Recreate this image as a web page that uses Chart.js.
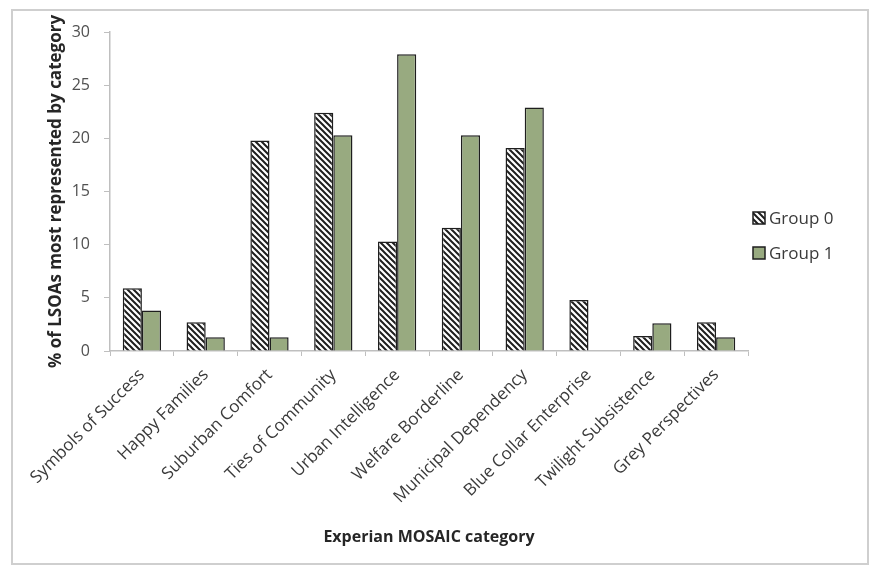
<!DOCTYPE html>
<html>
<head>
<meta charset="utf-8">
<script src="https://cdn.jsdelivr.net/npm/chart.js@4/dist/chart.umd.min.js"></script>
<style>
  html, body { margin: 0; padding: 0; background: #fff; }
  #wrap { width: 869px; height: 566px; }
</style>
</head>
<body>
<div id="wrap"><canvas id="chart" width="869" height="566"></canvas></div>
<script>
// ==============================
// data
// ==============================
const categories = [
  "Symbols of Success",
  "Happy Families",
  "Suburban Comfort",
  "Ties of Community",
  "Urban Intelligence",
  "Welfare Borderline",
  "Municipal Dependency",
  "Blue Collar Enterprise",
  "Twilight Subsistence",
  "Grey Perspectives",
];
const seriesNames = ["Group 0", "Group 1"];
const group0 = [5.9, 2.7, 19.8, 22.4, 10.3, 11.6, 19.1, 4.8, 1.4, 2.7];
const group1 = [3.8, 1.3, 1.3, 20.3, 27.9, 20.3, 22.9, 0, 2.6, 1.3];
const yMin = 0;
const yMax = 30;
const yStep = 5;
const xTitle = "Experian MOSAIC category";
const yTitle = "% of LSOAs most represented by category";

const GREEN = "#98aa80";
const EDGE = "#1e1e1e";
const AXIS = "#bfbfbf";

Chart.defaults.font.family = "'Open Sans', sans-serif";

const canvas = document.getElementById("chart");

// hatch fill for group 0 (wide downward diagonal)
function makeHatch() {
  const c = document.createElement("canvas");
  c.width = 6;
  c.height = 6;
  const g = c.getContext("2d");
  g.fillStyle = "#fff";
  g.fillRect(0, 0, 6, 6);
  g.strokeStyle = "#1e1e1e";
  g.lineWidth = 2;
  g.beginPath();
  g.moveTo(-1, -1); g.lineTo(7, 7);
  g.moveTo(-1, 5); g.lineTo(1, 7);
  g.moveTo(5, -1); g.lineTo(7, 1);
  g.stroke();
  return canvas.getContext("2d").createPattern(c, "repeat");
}

// ==============================
// frame + legend
// ==============================
const framePlugin = {
  id: "frame",
  beforeDraw(chart) {
    const ctx = chart.ctx;
    ctx.save();
    ctx.fillStyle = "#fff";
    ctx.fillRect(0, 0, chart.width, chart.height);
    ctx.strokeStyle = "#cfcfcf";
    ctx.lineWidth = 2;
    ctx.strokeRect(12, 10, chart.width - 13, chart.height - 12);
    ctx.restore();
  },
};

const sideLegend = {
  id: "sideLegend",
  afterDraw(chart) {
    const ctx = chart.ctx;
    const { right } = chart.chartArea;
    ctx.save();
    ctx.font = "17px 'Open Sans', sans-serif";
    ctx.textBaseline = "middle";
    ctx.textAlign = "left";
    chart.data.datasets.forEach((ds, i) => {
      const y = 218 + i * 35;
      const x = right + 5;
      ctx.fillStyle = ds.backgroundColor;
      ctx.fillRect(x, y - 6, 12, 12);
      ctx.strokeStyle = EDGE;
      ctx.lineWidth = 1.5;
      ctx.strokeRect(x, y - 6, 12, 12);
      ctx.fillStyle = "#3a3a3a";
      ctx.fillText(ds.label, x + 16, y + 1);
    });
    ctx.restore();
  },
};

// ==============================
// chart
// ==============================
new Chart(canvas, {
  type: "bar",
  data: {
    labels: categories,
    datasets: [
      {
        label: seriesNames[0],
        data: group0,
        backgroundColor: makeHatch(),
        borderColor: EDGE,
        borderWidth: 1.5,
      },
      {
        label: seriesNames[1],
        data: group1,
        backgroundColor: GREEN,
        borderColor: EDGE,
        borderWidth: 1.5,
      },
    ],
  },
  options: {
    responsive: false,
    animation: false,
    categoryPercentage: 0.6,
    barPercentage: 1.0,
    layout: {
      padding: { top: 32, right: 121, left: 0, bottom: 0 },
    },
    plugins: {
      legend: { display: false },
      tooltip: { enabled: false },
    },
    scales: {
      x: {
        afterFit(scale) { scale.height = 215; },
        grid: {
          offset: true,
          drawOnChartArea: false,
          drawTicks: true,
          tickLength: 5,
          color: AXIS,
        },
        border: { color: AXIS, width: 1.5 },
        ticks: {
          minRotation: 45,
          maxRotation: 45,
          autoSkip: false,
          padding: 9,
          color: "#3a3a3a",
          font: { size: 17 },
        },
        title: {
          display: true,
          text: xTitle,
          color: "#262626",
          font: { size: 16, weight: "bold" },
          padding: { top: 0, bottom: 19 },
        },
      },
      y: {
        min: yMin,
        max: yMax,
        afterFit(scale) { scale.width = 110; },
        ticks: {
          stepSize: yStep,
          padding: 14,
          color: "#505050",
          font: { size: 16 },
        },
        grid: {
          drawOnChartArea: false,
          drawTicks: true,
          tickLength: 6,
          color: AXIS,
        },
        border: { color: AXIS, width: 1.5 },
        title: {
          display: true,
          text: yTitle,
          color: "#262626",
          font: { size: 17, weight: "bold" },
          padding: { top: 46, bottom: 0 },
        },
      },
    },
  },
  plugins: [framePlugin, sideLegend],
});
</script>
</body>
</html>
